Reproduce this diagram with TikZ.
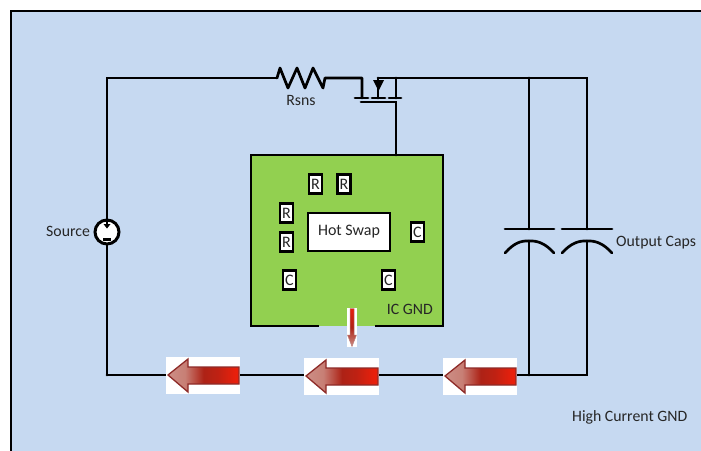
\documentclass[tikz,border=0pt]{standalone}
\usepackage{fontspec}
\setmainfont{Carlito}
\definecolor{bgblue}{HTML}{C6D9F1}
\definecolor{icgreen}{HTML}{92D050}
\definecolor{txt}{HTML}{262626}
\definecolor{arrowedge}{HTML}{8E2B28}
\definecolor{arrowpale}{HTML}{CC8F86}
\definecolor{arrowdark}{HTML}{AD2216}
\definecolor{arrowred}{HTML}{E8200C}
\pgfdeclarehorizontalshading{arrowshade}{100bp}{
  color(0bp)=(arrowpale); color(25bp)=(arrowpale); color(37bp)=(arrowpale!85!arrowdark);
  color(50bp)=(arrowdark); color(60bp)=(arrowdark!70!arrowred); color(72bp)=(arrowred); color(100bp)=(arrowred)}
\tikzset{
  wire/.style={draw=black,line width=2.7pt,line cap=round,line join=miter},
  lbl/.style={text=txt,font=\fontsize{15.8}{18}\selectfont,inner sep=0pt},
  part/.style={draw=black,fill=white,line width=2.6pt,inner sep=0pt,text=txt,font=\fontsize{16}{18}\selectfont,minimum width=13pt,minimum height=19pt},
  redarrow/.style={draw=arrowedge,line width=1.3pt,shading=arrowshade,line join=miter}
}
\newcommand{\bigarrow}[3]{% left edge of white patch, top, width
  \fill[white] (#1,#2) rectangle ++(#3,37);
  \path[redarrow] (#1+2,#2+18) -- (#1+22,#2+2) -- (#1+22,#2+10) -- (#1+#3-1,#2+10)
     -- (#1+#3-1,#2+27) -- (#1+22,#2+27) -- (#1+22,#2+35) -- cycle;
}
\newcommand{\lowtext}[1]{\raisebox{-1.5pt}{#1}}
\begin{document}
\begin{tikzpicture}[x=1pt,y=-1pt]
\useasboundingbox (0,0) rectangle (701,450);
\clip (0,0) rectangle (701,450);
\fill[white] (0,0) rectangle (701,450);
\draw[draw=black,fill=bgblue,line width=2.7pt] (11,11) rectangle (720,470);

% coordinates of wire corners
\coordinate (tl) at (107,78);
\coordinate (bl) at (107,375);
\coordinate (rs1) at (277,78);
\coordinate (rs2) at (325,78);
\coordinate (qs) at (362,78);
\coordinate (qsp) at (362,98);
\coordinate (qm) at (378,78);
\coordinate (qmp) at (378,98);
\coordinate (qd) at (396,78);
\coordinate (qdp) at (396,98);
\coordinate (qgl) at (361,102);
\coordinate (qgr) at (396,102);
\coordinate (c1top) at (529,78);
\coordinate (c2top) at (587,78);
\coordinate (c1u) at (529,229);
\coordinate (c2u) at (587,229);
\coordinate (c1l) at (529,241);
\coordinate (c2l) at (587,241);
\coordinate (c1b) at (529,375);
\coordinate (c2b) at (587,375);

% IC board
\fill[icgreen] (251,155) rectangle (443,326);
\draw[wire,line width=2.8pt,line cap=butt] (319,326) -- (251,326) -- (251,155) -- (443,155) -- (443,326) -- (375,326);
\coordinate (gatein) at (396,155);

% wires
\draw[wire] (bl) -- (tl) -- (rs1);
\draw[wire,line join=round] (rs1) -- (280,68) -- (288,88) -- (297,68) -- (305,88) -- (313,68) -- (323,88) -- (rs2) -- (qs) -- (qsp);
\draw[wire] (qm) -- (c2top) -- (c2u);
\draw[wire] (qd) -- (qdp);
\draw[wire] (qm) -- (qmp);
\draw[wire] (c1top) -- (c1u);
\draw[wire] (c1l) -- (c1b);
\draw[wire] (c2l) -- (c2b) -- (bl);
\draw[wire] (qgl) -- (qgr) -- (gatein);
\draw[wire] (355,98) -- (368,98);
\draw[wire] (372,98) -- (385,98);
\draw[wire] (389,98) -- (401,98);
\fill[black] (373,80) -- (384,80) -- (378.5,91) -- cycle;

% capacitors
\draw[wire] (505,229) -- (554,229);
\draw[wire] (562,229) -- (612,229);
\draw[wire] (505,253) .. controls (514,243) and (521,240.5) .. (c1l) .. controls (537,240.5) and (545,243) .. (554,253);
\draw[wire] (562,253) .. controls (571,243) and (579,240.5) .. (c2l) .. controls (595,240.5) and (603,243) .. (612,253);

% source
\node[circle,draw=black,fill=white,line width=3pt,minimum size=24pt,inner sep=0pt] (src) at (107,232) {};
\draw[wire,line cap=butt] (107,219) -- (107,226);
\fill[black] (103.5,224) -- (110.5,224) -- (107,228.5) -- cycle;
\draw[line width=2.2pt] (103,239.5) -- (111,239.5);

% parts
\node[part,minimum width=82pt,minimum height=38pt] (hs) at (349,232) {\lowtext{Hot Swap}};
\node[part] (r1) at (315.5,184) {\lowtext{R}};
\node[part] (r2) at (344,184) {\lowtext{R}};
\node[part] (r3) at (286.5,213) {\lowtext{R}};
\node[part] (r4) at (286.5,242) {\lowtext{R}};
\node[part] (c1) at (417.5,232) {\lowtext{C}};
\node[part] (c2) at (289.5,280) {\lowtext{C}};
\node[part] (c3) at (388.5,280) {\lowtext{C}};

% current arrows
\bigarrow{166}{357}{74}
\bigarrow{304}{358}{75}
\bigarrow{443}{358}{74}
\fill[white] (347,308) rectangle (357,347);
\path[draw=arrowedge!60,line width=.5pt,top color=arrowred,bottom color=arrowpale,middle color=arrowdark]
  (350,308.5) -- (354,308.5) -- (354,335) -- (356.5,335) -- (352,346.5) -- (347.5,335) -- (350,335) -- cycle;

% labels
\node[lbl,anchor=west] (lsrc) at (46,231.5) {Source};
\node[lbl] (lrs) at (301,100.5) {Rsns};
\node[lbl,anchor=west] (lcap) at (616,242.5) {Output Caps};
\node[lbl,anchor=east] (lic) at (433,309.5) {IC GND};
\node[lbl,anchor=west] (lhc) at (572,417) {High Current GND};
\end{tikzpicture}
\end{document}
